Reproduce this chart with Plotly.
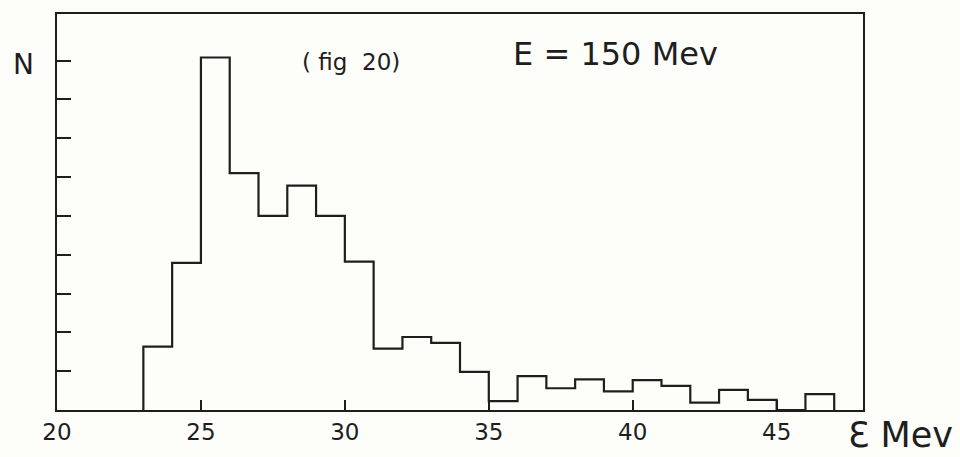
import plotly.graph_objects as go

# Energy bins (MeV), 1 MeV wide, left edges
bin_left = [23, 24, 25, 26, 27, 28, 29, 30, 31, 32, 33, 34,
            35, 36, 37, 38, 39, 40, 41, 42, 43, 44, 45, 46]
# Number of events per bin (in units of the N-axis tick spacing)
counts = [1.63, 3.79, 9.08, 6.10, 5.00, 5.78, 5.00, 3.82, 1.58, 1.88, 1.73, 0.98,
          0.23, 0.87, 0.56, 0.79, 0.48, 0.77, 0.62, 0.19, 0.52, 0.26, 0.0, 0.41]
bin_width = 1

x_ticks = [20, 25, 30, 35, 40, 45]
x_tick_text = ["20", "25", "30", "35", "40", "45"]
y_ticks = [1, 2, 3, 4, 5, 6, 7, 8, 9]

ink = "#1e1e1e"
paper = "#fdfdf9"
font_family = "DejaVu Sans"

# step outline of the histogram
xs = [bin_left[0]] + bin_left + [bin_left[-1] + bin_width]
ys = [0] + counts + [0]

fig = go.Figure()
fig.add_trace(go.Scatter(
    x=xs, y=ys, mode="lines", line=dict(shape="hv", color=ink, width=2.2),
    hoverinfo="skip", showlegend=False,
))

fig.update_layout(
    width=960, height=457,
    margin=dict(l=57, r=97, t=13, b=42),
    paper_bgcolor=paper, plot_bgcolor=paper,
    font=dict(family=font_family, color=ink),
    showlegend=False,
    xaxis=dict(
        range=[20, 48], tickvals=x_ticks, ticktext=x_tick_text,
        ticks="inside", ticklen=10, tickwidth=1.6, tickcolor=ink,
        showline=True, linecolor=ink, linewidth=2, mirror=True,
        showgrid=False, zeroline=False,
        tickfont=dict(size=23, color=ink, family=font_family),
    ),
    yaxis=dict(
        range=[0, 10.2], tickvals=y_ticks, showticklabels=False,
        ticks="inside", ticklen=14, tickwidth=1.6, tickcolor=ink,
        showline=True, linecolor=ink, linewidth=2, mirror=True,
        showgrid=False, zeroline=False,
    ),
)

fig.add_annotation(text="N", xref="paper", yref="paper", x=-0.041, y=0.872,
                   xanchor="center", yanchor="middle", showarrow=False,
                   font=dict(size=28, color=ink, family=font_family))
fig.add_annotation(text="( fig  20)", xref="x", yref="paper", x=30.2, y=0.88,
                   xanchor="center", yanchor="middle", showarrow=False,
                   font=dict(size=23, color=ink, family=font_family))
fig.add_annotation(text="E = 150 Mev", xref="x", yref="paper", x=39.4, y=0.898,
                   xanchor="center", yanchor="middle", showarrow=False,
                   font=dict(size=32, color=ink, family=font_family))
fig.add_annotation(text="Ɛ Mev", xref="paper", yref="paper", x=1.046, y=-0.062,
                   xanchor="center", yanchor="middle", showarrow=False,
                   font=dict(size=35, color=ink, family=font_family))

fig.write_html("out.html")
